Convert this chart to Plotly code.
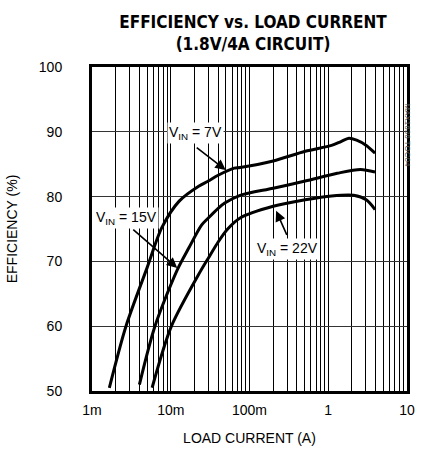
import plotly.graph_objects as go
import math

# Load current (A) and efficiency (%)
i7 = [0.00166, 0.0027, 0.0050, 0.0077, 0.0128, 0.0226, 0.030, 0.040, 0.064, 0.076,
      0.20, 0.51, 1.10, 1.45, 1.83, 2.29, 3.04, 3.93]
e7 = [50.5, 60.0, 69.0, 75.2, 79.3, 81.6, 82.4, 83.3, 84.4, 84.5,
      85.5, 87.0, 87.9, 88.5, 89.0, 88.7, 87.9, 86.7]

i15 = [0.0040, 0.0063, 0.0121, 0.0170, 0.0246, 0.030, 0.040, 0.0485, 0.076,
       0.20, 0.51, 1.30, 2.57, 3.93]
e15 = [51.0, 60.0, 68.7, 72.1, 75.6, 76.7, 78.2, 79.0, 80.2,
       81.3, 82.4, 83.6, 84.2, 83.8]

i22 = [0.0058, 0.0102, 0.0239, 0.030, 0.040, 0.0528, 0.076, 0.20, 0.51,
       1.10, 2.10, 3.04, 3.93]
e22 = [50.5, 60.0, 68.5, 70.5, 73.0, 75.0, 76.7, 78.5, 79.5,
       80.1, 80.2, 79.5, 78.0]

x_tickvals = [0.001, 0.01, 0.1, 1, 10]
x_ticktext = ["1m", "10m", "100m", "1", "10"]
y_tickvals = [50, 60, 70, 80, 90, 100]
minor_x = [k * 10.0 ** n for n in range(-3, 1) for k in range(2, 10)]

fig = go.Figure()
for xs, ys in [(i7, e7), (i15, e15), (i22, e22)]:
    fig.add_trace(go.Scatter(x=xs, y=ys, mode="lines",
                             line=dict(color="black", width=3, shape="spline", smoothing=0.8),
                             showlegend=False, hoverinfo="skip"))

font_main = "Liberation Sans, Arial, sans-serif"

fig.update_layout(
    width=426, height=456,
    margin=dict(l=90, r=11, t=67, b=62),
    paper_bgcolor="white", plot_bgcolor="white",
    title=dict(text="<b>EFFICIENCY vs. LOAD CURRENT<br>(1.8V/4A CIRCUIT)</b>",
               x=253 / 426, xanchor="center", y=1 - 28 / 456, yanchor="middle",
               font=dict(family="DejaVu Sans Condensed, Liberation Sans, sans-serif", size=17, color="black")),
    xaxis=dict(type="log", range=[-3, 1], tickvals=x_tickvals, ticktext=x_ticktext,
               showgrid=True, gridcolor="black", gridwidth=1.3,
               minor=dict(tickvals=minor_x, showgrid=True, gridcolor="black", gridwidth=1),
               showline=True, linecolor="black", linewidth=3, mirror=True, ticks="",
               ticklabelstandoff=4,
               tickfont=dict(family=font_main, size=14, color="black"),
               title=dict(text="LOAD CURRENT (A)", standoff=17,
                          font=dict(family=font_main, size=14, color="black"))),
    yaxis=dict(range=[50, 100], tickvals=y_tickvals, showgrid=True, gridcolor="#333333", gridwidth=1,
               showline=True, linecolor="black", linewidth=3, mirror=True, ticks="",
               ticklabelstandoff=24,
               tickfont=dict(family=font_main, size=14, color="black"),
               title=dict(text="EFFICIENCY (%)", standoff=18,
                          font=dict(family=font_main, size=14, color="black"))),
)

lab_font = dict(family=font_main, size=14, color="black")
arrows = [
    (0.0499, 84.1, -31, -24),
    (0.0121, 69.0, -46, -40),
    (0.218, 77.8, 12, 27),
]
for x, y, ax, ay in arrows:
    fig.add_annotation(x=math.log10(x), y=y, xref="x", yref="y", text=" ", showarrow=True,
                       ax=ax, ay=ay, axref="pixel", ayref="pixel",
                       arrowhead=2, arrowsize=1.3, arrowwidth=1.6, arrowcolor="black",
                       font=dict(size=2))
labels = [
    ("V<sub>IN</sub> = 7V", 0.0207, 89.8),
    ("V<sub>IN</sub> = 15V", 0.00277, 76.7),
    ("V<sub>IN</sub> = 22V", 0.306, 71.9),
]
for t, x, y in labels:
    fig.add_annotation(x=math.log10(x), y=y, xref="x", yref="y", text=t, showarrow=False,
                       bgcolor="white", font=lab_font, borderpad=1)

fig.add_annotation(x=(422 - 90) / 325, y=(393.5 - 102) / 326, xref="paper", yref="paper",
                   text="MAX1636 TOC04", textangle=90, showarrow=False,
                   font=dict(family=font_main, size=8, color="#555555"))

fig.write_html("out.html")
